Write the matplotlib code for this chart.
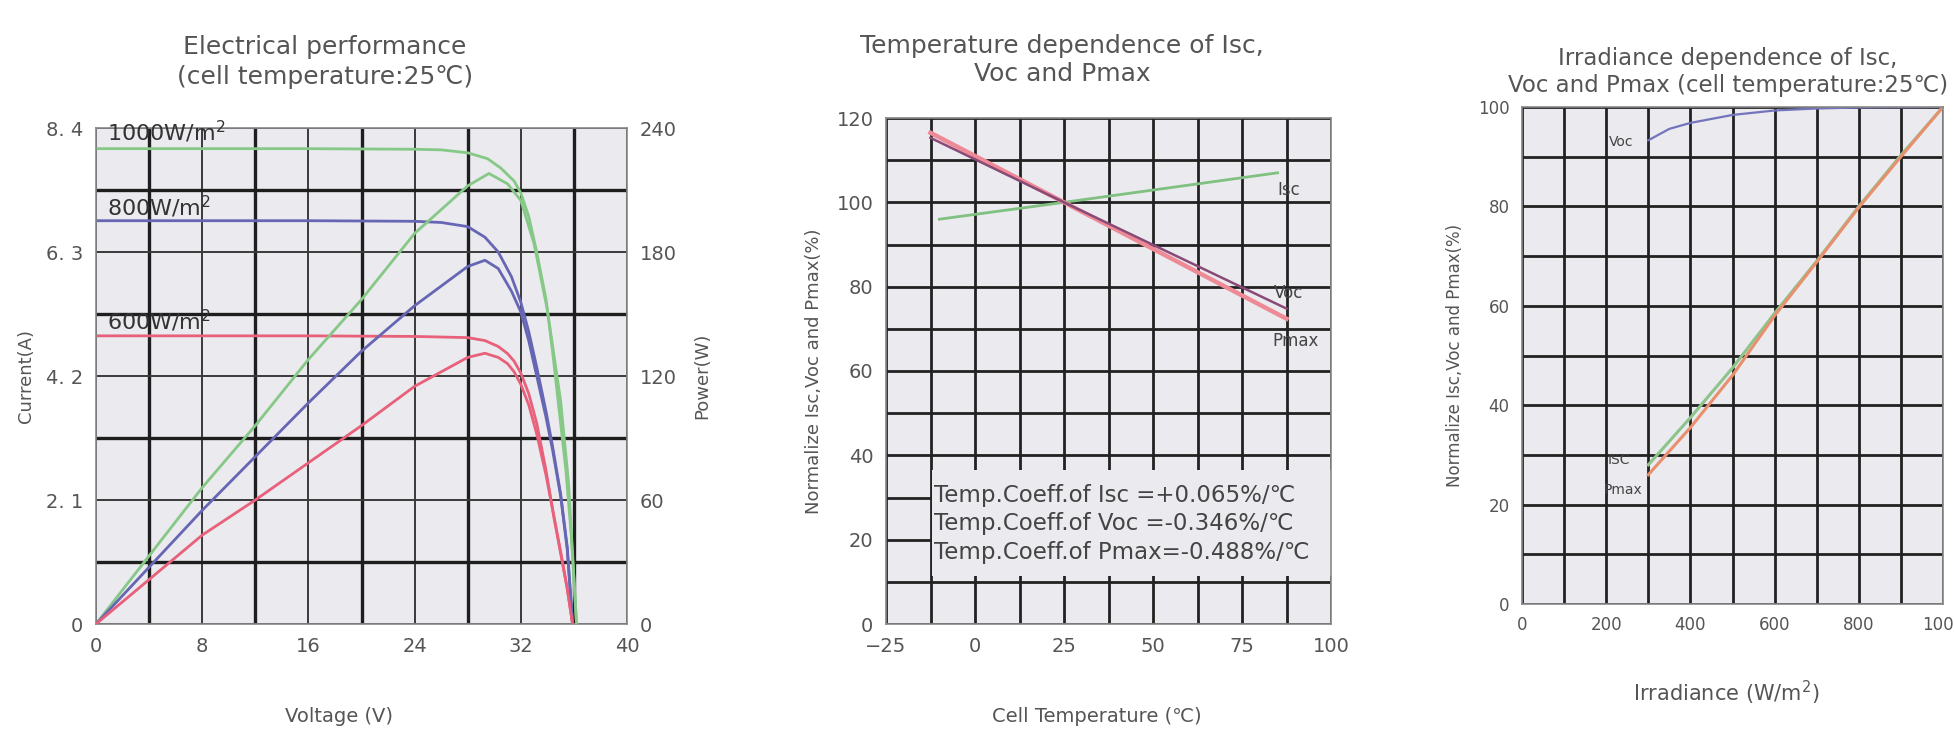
import matplotlib
matplotlib.use("Agg")
import matplotlib.pyplot as plt
from matplotlib.patches import Rectangle

plt.rcParams['font.family'] = ['DejaVu Sans']

# ---- panel 1: I-V and P-V curves at three irradiance levels ----
iv_1000_v = [0, 8, 16, 24, 26, 28, 29.5, 30.5, 31.5, 32, 32.6, 33.2, 33.9, 34.4, 34.9, 35.4, 35.8, 36.2]
iv_1000_i = [8.05, 8.05, 8.05, 8.04, 8.03, 7.98, 7.88, 7.72, 7.5, 7.3, 6.9, 6.3, 5.5, 4.6, 3.6, 2.6, 1.5, 0]
pv_1000_v = [0, 8, 12, 16, 20, 24, 28, 29.6, 31, 32, 33, 34, 35, 35.6, 36.2]
pv_1000_p = [0, 66, 96, 128, 157, 189, 212, 218, 213, 205, 184, 152, 108, 68, 0]

iv_800_v = [0, 8, 16, 24, 26, 28, 29.3, 30.3, 31.3, 32, 32.6, 33.2, 33.9, 34.4, 35.0, 35.5, 35.9]
iv_800_i = [6.83, 6.83, 6.83, 6.82, 6.8, 6.73, 6.55, 6.3, 5.88, 5.45, 4.95, 4.35, 3.6, 3.0, 2.2, 1.3, 0]
pv_800_v = [0, 8, 12, 16, 20, 24, 28, 29.3, 30.3, 31.3, 32, 32.6, 33.2, 33.9, 34.4, 35.0, 35.5, 35.9]
pv_800_p = [0, 55, 81, 107, 132, 154, 173, 176, 172, 161, 151, 137, 120, 100, 84, 62, 36, 0]

iv_600_v = [0, 8, 16, 24, 26, 28, 29.3, 30.3, 31, 31.5, 32, 32.6, 33.2, 33.9, 34.5, 35.0, 35.5, 35.9]
iv_600_i = [4.88, 4.88, 4.88, 4.87, 4.86, 4.85, 4.8, 4.7, 4.58, 4.45, 4.25, 3.9, 3.4, 2.6, 1.8, 1.2, 0.6, 0]
pv_600_v = [0, 8, 12, 16, 20, 24, 28, 29.3, 30.3, 31, 31.5, 32, 32.6, 33.2, 33.9, 34.5, 35.0, 35.5, 35.9]
pv_600_p = [0, 43, 60, 78, 96, 115, 129, 131, 129, 126, 122, 116, 106, 92, 72, 52, 35, 17, 0]

irr_labels = ["1000W/m$^2$", "800W/m$^2$", "600W/m$^2$"]
irr_label_y = [8.33, 7.07, 5.14]

volt_ticks = [0, 8, 16, 24, 32, 40]
curr_ticks = [0, 2.1, 4.2, 6.3, 8.4]
curr_ticklabels = ["0", "2. 1", "4. 2", "6. 3", "8. 4"]
power_ticks = [0, 60, 120, 180, 240]

# ---- panel 2: temperature dependence ----
temp_isc = [-10, 25, 85]
isc_temp = [96, 100, 107]
temp_vp = [-12.5, 25, 87.5]
voc_temp = [115.3, 100, 74.8]
pmax_temp = [116.5, 100, 72.4]
coeff_text = ["Temp.Coeff.of Isc =+0.065%/\u2103",
              "Temp.Coeff.of Voc =-0.346%/\u2103",
              "Temp.Coeff.of Pmax=-0.488%/\u2103"]
temp_ticks = [-25, 0, 25, 50, 75, 100]
norm_ticks = [0, 20, 40, 60, 80, 100, 120]

# ---- panel 3: irradiance dependence ----
irr_x = [300, 400, 500, 600, 700, 800, 900, 1000]
isc_irr = [28, 37.5, 47.5, 58.5, 69, 80, 90.3, 100]
pmax_irr = [26, 35.5, 46, 58, 68.8, 79.8, 90, 100]
irr_voc_x = [300, 350, 400, 500, 600, 700, 800, 1000]
voc_irr = [93.3, 95.6, 96.8, 98.4, 99.3, 99.7, 99.9, 100]
irr_ticks = [0, 200, 400, 600, 800, 1000]
norm3_ticks = [0, 20, 40, 60, 80, 100]

GREEN = "#86c886"
BLUE = "#6666b4"
RED = "#e8607a"
FACE = "#eaeaef"
TXT = "#555555"


def style_axes(ax, xmaj, xmin, ymaj, ymin, major_lw, minor_lw, major_col, minor_col, fs):
    ax.set_facecolor(FACE)
    ax.set_xticks(xmaj)
    ax.set_xticks(xmin, minor=True)
    ax.set_yticks(ymaj)
    ax.set_yticks(ymin, minor=True)
    ax.set_axisbelow(True)
    ax.grid(True, which="major", color=major_col, lw=major_lw)
    ax.grid(True, which="minor", color=minor_col, lw=minor_lw)
    ax.tick_params(which="both", length=0, labelsize=fs, labelcolor=TXT, pad=9)
    for s in ax.spines.values():
        s.set_color("#888888")
        s.set_linewidth(1.2)


fig = plt.figure(figsize=(19.54, 7.29), dpi=100)
W, H = 1954.0, 729.0

# Panel 1
ax1 = fig.add_axes([96 / W, 1 - 624 / H, 531 / W, 496 / H])
style_axes(ax1, volt_ticks, [4, 12, 20, 28, 36], curr_ticks, [1.05, 3.15, 5.25, 7.35],
           1.4, 2.4, "#3a3a3a", "#1e1e1e", 14)
ax1.set_xlim(0, 40)
ax1.set_ylim(0, 8.4)
ax1.set_yticklabels(curr_ticklabels)
ax1b = ax1.twinx()
ax1b.set_ylim(0, 240)
ax1b.set_yticks(power_ticks)
ax1b.tick_params(length=0, labelsize=14, labelcolor=TXT, pad=9)
for s in ax1b.spines.values():
    s.set_visible(False)

for v, i, c in [(iv_1000_v, iv_1000_i, GREEN), (iv_800_v, iv_800_i, BLUE), (iv_600_v, iv_600_i, RED)]:
    ax1.plot(v, i, color=c, lw=2)
for v, p, c in [(pv_1000_v, pv_1000_p, GREEN), (pv_800_v, pv_800_p, BLUE), (pv_600_v, pv_600_p, RED)]:
    ax1b.plot(v, p, color=c, lw=2)
for lab, y in zip(irr_labels, irr_label_y):
    ax1.text(0.8, y, lab, fontsize=16, color="#333333", va="center", ha="left")

ax1.set_ylabel("Current(A)", fontsize=13, color=TXT, labelpad=8)
ax1b.set_ylabel("Power(W)", fontsize=13, color=TXT, labelpad=12)
fig.text(339 / W, 1 - 717 / H, "Voltage (V)", ha="center", va="center", fontsize=14, color=TXT)
fig.text(325 / W, 1 - 62 / H, "Electrical performance\n(cell temperature:25\u2103)",
         ha="center", va="center", fontsize=18, color=TXT, linespacing=1.3)

# Panel 2
ax2 = fig.add_axes([886 / W, 1 - 624 / H, 445 / W, 506 / H])
style_axes(ax2, temp_ticks, [-12.5, 12.5, 37.5, 62.5, 87.5], norm_ticks, list(range(10, 120, 20)),
           2.0, 2.0, "#222222", "#222222", 14)
ax2.set_xlim(-25, 100)
ax2.set_ylim(0, 120)
ax2.plot(temp_isc, isc_temp, color="#80c080", lw=2)
ax2.plot(temp_vp, pmax_temp, color="#ee8a96", lw=3.2)
ax2.plot(temp_vp, voc_temp, color="#8a4a78", lw=1.8)
ax2.text(88, 103, "Isc", fontsize=12, color="#444444", va="center", ha="center")
ax2.text(88, 78.5, "Voc", fontsize=12, color="#444444", va="center", ha="center")
ax2.text(90, 67, "Pmax", fontsize=12, color="#444444", va="center", ha="center")
ax2.add_patch(Rectangle((-12, 11.5), 112, 25, facecolor=FACE, edgecolor="none", zorder=2))
ax2.text(-11.5, 23.8, "\n".join(coeff_text), fontsize=16.5, color="#444444",
         va="center", ha="left", linespacing=1.3, zorder=3)
ax2.set_ylabel("Normalize Isc,Voc and Pmax(%)", fontsize=13, color=TXT, labelpad=10)
fig.text(1097 / W, 1 - 717 / H, "Cell Temperature (\u2103)", ha="center", va="center",
         fontsize=14, color=TXT)
fig.text(1062 / W, 1 - 60 / H, "Temperature dependence of Isc,\nVoc and Pmax",
         ha="center", va="center", fontsize=18, color=TXT, linespacing=1.2)

# Panel 3
ax3 = fig.add_axes([1522 / W, 1 - 604 / H, 421 / W, 497 / H])
style_axes(ax3, irr_ticks, list(range(100, 1000, 200)), norm3_ticks, list(range(10, 100, 20)),
           2.0, 2.0, "#222222", "#222222", 12)
ax3.set_xlim(0, 1000)
ax3.set_ylim(0, 100)
ax3.plot(irr_voc_x, voc_irr, color="#7474bc", lw=1.6)
ax3.plot(irr_x, isc_irr, color="#8cc48c", lw=2.2)
ax3.plot(irr_x, pmax_irr, color="#e8906e", lw=2.2)
ax3.text(235, 93, "Voc", fontsize=10, color="#444444", va="center", ha="center")
ax3.text(230, 29, "ISC", fontsize=10, color="#444444", va="center", ha="center")
ax3.text(240, 23, "Pmax", fontsize=10, color="#444444", va="center", ha="center")
ax3.set_ylabel("Normalize Isc,Voc and Pmax(%)", fontsize=12, color=TXT, labelpad=10)
fig.text(1726 / W, 1 - 693 / H, "Irradiance (W/m$^2$)", ha="center", va="center",
         fontsize=15, color=TXT)
fig.text(1728 / W, 1 - 72 / H, "Irradiance dependence of Isc,\nVoc and Pmax (cell temperature:25\u2103)",
         ha="center", va="center", fontsize=16.5, color=TXT, linespacing=1.2)

fig.savefig("out.png", dpi=100, facecolor="white")
